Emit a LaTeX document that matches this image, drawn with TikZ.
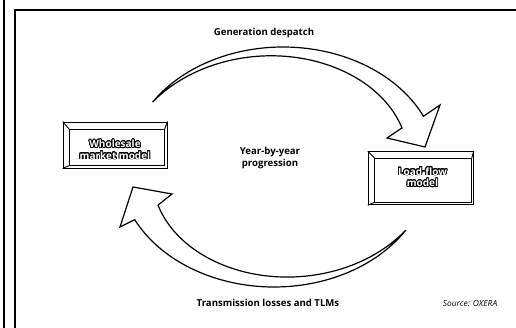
\documentclass[tikz,border=0pt]{standalone}
\usepackage{fontspec}
\setmainfont{Open Sans}
\usepackage{contour}
\contourlength{0.8pt}
\contournumber{24}
\begin{document}
\begin{tikzpicture}[x=1pt,y=-1pt,
  rule/.style={line width=1.8pt},
  flow/.style={draw=black, fill=white, line width=1.2pt, line join=miter},
  modelbox/.style={draw=black, line width=0.9pt, inner sep=0pt},
  bevel/.style={draw=black, line width=0.9pt},
  caption/.style={font=\bfseries\fontsize{9.6}{11.5}\selectfont, align=center, inner sep=0pt},
  boxtext/.style={font=\bfseries\fontsize{10}{11.5}\selectfont, align=center, inner sep=0pt},
  source/.style={font=\itshape\fontsize{8.4}{10}\selectfont, inner sep=0pt},
]
\useasboundingbox (0,0) rectangle (516,328);

% page rules
\draw[rule] (4,0) -- (4,328);
\draw[rule] (15,9.3) -- (15,328);
\draw[line width=1.4pt] (14.1,10) -- (516,10);

% upper arrow: wholesale -> load-flow
\draw[flow]
  plot[domain=147:25, samples=70] ({283+155*cos(\x)},{167-120*sin(\x)})
  -- (440,105) -- (425,147) -- (387,138)
  -- plot[domain=23:147, samples=70]
     ({283+155*(0.834+0.166*(\x-23)/124)*cos(\x)},{167-120*(0.834+0.166*(\x-23)/124)*sin(\x)})
  -- cycle;

% lower arrow: load-flow -> wholesale
\draw[flow]
  plot[domain=328:206, samples=70] ({274+155*cos(\x)},{167-120*sin(\x)})
  -- (120,227) -- (133,187) -- (172,194)
  -- plot[domain=203:328, samples=70]
     ({274+155*(0.813+0.187*(\x-203)/125)*cos(\x)},{167-120*(0.813+0.187*(\x-203)/125)*sin(\x)})
  -- cycle;

% model boxes with bevelled inner frame
\node[modelbox, minimum width=104pt, minimum height=46pt] (wm) at (115,145) {};
\draw[bevel] ([shift={(7,8)}]wm.north west) rectangle ([shift={(-3,-3)}]wm.south east);
\draw[bevel] (wm.north west) -- ([shift={(7,8)}]wm.north west);
\draw[bevel] (wm.south west) -- ([shift={(7,-3)}]wm.south west);
\draw[bevel] (wm.north east) -- ([shift={(-3,8)}]wm.north east);
\node[boxtext] (wmtext) at (115,150) {\contour{black}{\textcolor{white}{Wholesale}}\\\contour{black}{\textcolor{white}{market model}}};

\node[modelbox, minimum width=105pt, minimum height=53pt] (lf) at (420.7,178.3) {};
\draw[bevel] ([shift={(7,7)}]lf.north west) rectangle ([shift={(-2,-3)}]lf.south east);
\draw[bevel] (lf.north west) -- ([shift={(7,7)}]lf.north west);
\draw[bevel] (lf.south west) -- ([shift={(7,-3)}]lf.south west);
\draw[bevel] (lf.north east) -- ([shift={(-2,7)}]lf.north east);
\node[boxtext] (lftext) at (422.5,177.5) {\contour{black}{\textcolor{white}{Load-flow}}\\\contour{black}{\textcolor{white}{model}}};

% captions
\node[caption] (gen) at (264,33) {Generation despatch};
\node[caption] (year) at (270,158) {Year-by-year\\progression};
\node[caption] (trans) at (268,303) {Transmission losses and TLMs};
\node[source] (src) at (470,304) {Source: OXERA};
\end{tikzpicture}
\end{document}
